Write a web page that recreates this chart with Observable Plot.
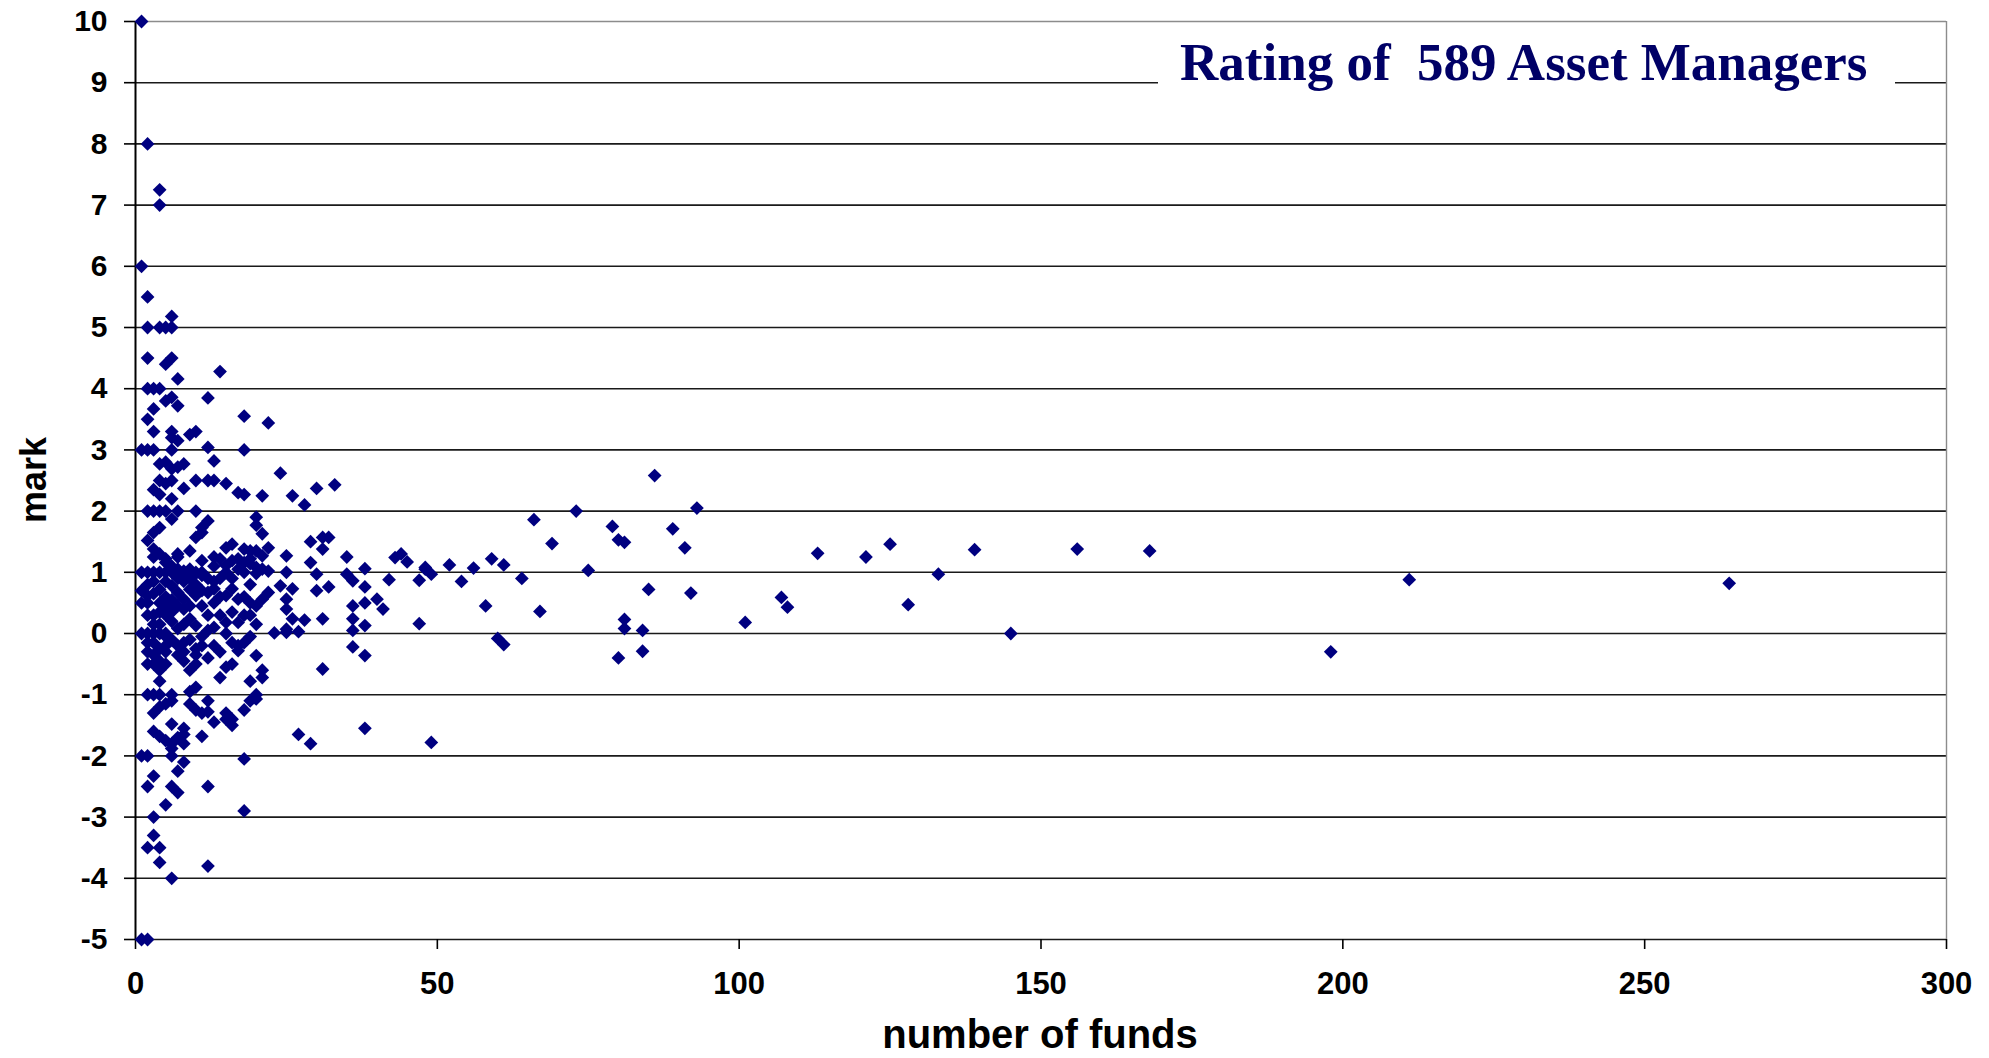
<!DOCTYPE html>
<html><head><meta charset="utf-8">
<script src="https://cdn.jsdelivr.net/npm/d3@7"></script>
<script src="https://cdn.jsdelivr.net/npm/@observablehq/plot@0.6"></script>
<style>body{margin:0;background:#fff} svg{display:block}</style>
</head><body><div id="chart"></div>
<script>
// number of funds per asset manager
const funds = [
 1,2,4,4,1,2,6,2,4,5,6,2,5,6,14,7,2,3,4,5,6,7,12,3,2,18,22,3,6,6,7,9,10,1,2,3,6,12,18,
 13,4,5,6,8,7,24,4,5,6,10,12,13,15,17,18,8,3,4,6,21,26,30,33,28,2,3,4,5,7,10,
 20,20,21,6,12,11,11,10,4,3,2,29,31,32,31,22,20,21,3,4,5,5,7,9,11,
 15,16,18,19,14,15,16,17,18,19,20,25,29,30,35,38,43,44,45,42,47,47,
 1,2,3,4,5,6,7,8,9,10,11,
 3,7,13,19,6,7,8,9,10,11,13,15,17,18,20,21,22,25,
 4,2,2,3,4,6,7,8,9,10,7,8,9,12,13,15,16,17,13,18,19,20,21,22,24,18,17,15,23,25,25,6,7,9,10,12,
 1,2,3,4,5,
 6,7,8,5,7,8,10,11,13,10,15,16,17,18,19,17,20,2,4,3,5,2,3,4,16,14,4,19,21,21,31,
 2,3,4,6,
 9,10,9,10,12,12,11,13,15,16,16,15,18,19,20,20,3,4,5,6,6,8,8,7,8,11,3,4,5,6,6,27,29,38,49,
 1,2,6,18,8,7,3,2,6,7,12,5,18,3,3,2,4,4,12,6,1,2,
 35,36,48,49,38,30,32,26,25,40,41,36,38,31,36,38,36,26,25,36,38,
 48,52,54,56,58,59,61,60,61,64,66,67,69,73,75,79,80,81,81,81,84,84,80,85,86,89,91,92,93,
 101,107,108,113,121,125,128,133,139,145,156,168,198,211,264,
 1,2,3,3,4,5,5,5,2,3,4,5,1,2,3,5,4,27,28,
 8,9,10,11,12,13,14,14,16,19,11,12,14,16,19,20,8,9,11,13,6,6,7,5,8,10,9,12,14,15
];
// mark of each asset manager
const marks = [
 10,8,7.25,7,6,5.5,5.18,5,5,5,5,4.5,4.4,4.5,4.28,4.16,4,4,4,3.8,3.86,3.72,3.85,3.67,3.5,3.55,3.44,3.3,3.3,3.2,3.15,3.25,3.3,3,3,3,3,3.04,3,
 2.82,2.77,2.8,2.69,2.77,2.72,2.62,2.5,2.45,2.5,2.5,2.5,2.5,2.45,2.3,2.27,2.37,2.35,2.27,2.2,2.25,2.25,2.37,2.43,2.1,2,2,2,2,2,2,
 1.9,1.77,1.63,1.87,1.84,1.73,1.65,1.57,1.73,1.65,1.52,1.5,1.57,1.57,1.38,1.4,1.35,1.27,1.38,1.3,1.22,1.16,1.3,1.35,1.19,
 1.4,1.46,1.38,1.35,1.22,1.11,1.19,1.22,1.16,1.22,1.08,1.27,1.16,0.97,1.25,1.06,1.24,1.3,1.17,0.88,0.87,0.16,
 1,1,1,1,1,1,1,1,1,1,1,
 1.25,1.25,1.25,1.14,1.1,1.05,1.02,1.05,0.98,0.95,1.1,1.0,1.05,1.0,0.98,1.05,1.02,1.0,
 0.72,0.62,0.5,0.3,0.35,0.78,0.67,0.56,0.72,0.62,0.45,0.4,0.45,0.67,0.73,0.62,0.73,0.56,0.5,0.6,0.5,0.45,0.56,0.67,0.78,0.3,0.18,0.18,0.01,0.02,0.4,0.2,0.08,0.24,0.13,0.3,
 0,0,0,0,0,
 -0.1,-0.2,-0.3,-0.2,-0.35,-0.45,-0.25,-0.2,-0.2,-0.35,0,-0.15,-0.2,-0.15,-0.05,-0.28,-0.36,-0.15,-0.25,-0.35,-0.3,-0.5,-0.5,-0.6,-0.5,-0.72,-0.78,-0.78,-0.6,-0.72,-0.58,
 -1,-1,-1,-1,
 -0.95,-0.88,-1.15,-1.25,-1.1,-1.28,-1.3,-1.45,-1.3,-1.4,-1.5,-1.4,-1.25,-1.1,-1.0,-1.07,-1.3,-1.2,-1.15,-1.1,-1.48,-1.55,-1.65,-1.7,-1.8,-1.68,-1.6,-1.68,-1.75,-1.8,-1.88,-1.65,-1.8,-1.55,-1.78,
 -2,-2,-2,-2.05,-2.1,-2.25,-2.33,-2.5,-2.5,-2.6,-2.5,-2.8,-2.9,-3,-3.3,-3.5,-3.5,-3.74,-3.8,-4,-5,-5,
 0.97,0.86,1.05,0.97,0.76,0.7,0.76,0.73,0.56,0.56,0.4,0.45,0.5,0.24,0.24,0.13,0.05,0.24,0.07,-0.22,-0.36,
 1.08,1.12,0.85,1.07,0.45,1.22,1.12,-0.08,-0.18,0.9,1.86,0.36,1.47,2.0,1.03,1.75,1.53,1.49,0.23,0.08,0.05,-0.29,-0.4,0.72,2.58,1.71,1.4,0.66,2.05,
 0.18,0.59,0.43,1.31,1.25,1.46,0.47,0.97,1.37,0,1.38,1.35,-0.3,0.88,0.82,
 0.5,0.8,0.65,0.85,0.5,0.6,0.45,0.85,0.3,0.15,0.15,0.3,0.7,-0.3,-0.15,-0.5,-0.45,0.03,0.22,
 0.85,0.9,0.8,0.7,0.9,0.85,0.6,0.9,0.9,0.8,0.45,0.05,0.3,0.35,0.3,0.15,0.15,-0.1,-0.05,0.1,0.55,0.35,0.9,-0.05,-0.15,-0.5,-0.6,-0.4,-0.3,-0.55
];
const xTicks = [0, 50, 100, 150, 200, 250, 300];
const yTicks = [-5, -4, -3, -2, -1, 0, 1, 2, 3, 4, 5, 6, 7, 8, 9, 10];
const titleText = "Rating of  589 Asset Managers";
const xLabel = "number of funds";
const yLabel = "mark";

const data = funds.map((f, i) => ({funds: f, mark: marks[i]}));

const sans = "'Liberation Sans', Arial, sans-serif";
const plot = Plot.plot({
  width: 1989, height: 1058,
  marginLeft: 135, marginRight: 43, marginTop: 21, marginBottom: 119,
  style: {fontFamily: sans, background: "#fff", color: "#000"},
  x: {domain: [0, 300]},
  y: {domain: [-5, 10]},
  marks: [
    Plot.ruleY(yTicks.filter(d => d < 10), {stroke: "#1a1a1a", strokeWidth: 1.6}),
    Plot.ruleY([10], {stroke: "#8c8c8c", strokeWidth: 1.4}),
    Plot.ruleX([300], {stroke: "#8c8c8c", strokeWidth: 1.4}),
    Plot.ruleX([0], {stroke: "#000", strokeWidth: 2}),
    Plot.axisX({ticks: xTicks, tickSize: 10, tickPadding: 22, fontSize: 31, fontWeight: "bold",
      strokeWidth: 1.6, label: null, tickFormat: d => String(d)}),
    Plot.axisY({ticks: yTicks, tickSize: 11, tickPadding: 17, fontSize: 30, fontWeight: "bold",
      strokeWidth: 1.6, label: null, tickFormat: d => String(d)}),
    Plot.dot(data, {x: "funds", y: "mark", symbol: "diamond2", r: 6.2, fill: "#000080", stroke: "none"})
  ]
});

const svg = d3.select(plot);
svg.append("rect").attr("x", 1158).attr("y", 23).attr("width", 737).attr("height", 86).attr("fill", "#fff");
svg.append("text")
  .attr("x", 1180).attr("y", 80).attr("text-anchor", "start")
  .attr("font-family", "'Liberation Serif', 'Times New Roman', serif")
  .attr("font-weight", "bold").attr("font-size", 53).attr("fill", "#000066")
  .style("white-space", "pre").text(titleText);
svg.append("text")
  .attr("transform", "translate(46,480) rotate(-90)")
  .attr("text-anchor", "middle").attr("font-family", sans)
  .attr("font-weight", "bold").attr("font-size", 36).attr("fill", "#000").text(yLabel);
svg.append("text")
  .attr("x", 1040).attr("y", 1048).attr("text-anchor", "middle").attr("font-family", sans)
  .attr("font-weight", "bold").attr("font-size", 40).attr("fill", "#000").text(xLabel);

document.getElementById("chart").appendChild(plot);
</script>
</body></html>
